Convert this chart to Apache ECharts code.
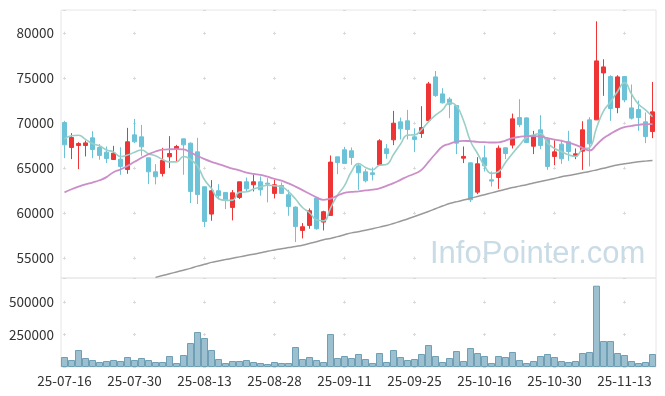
<!DOCTYPE html>
<html><head><meta charset="utf-8">
<script src="https://cdn.jsdelivr.net/npm/echarts@6/dist/echarts.min.js"></script>
<style>html,body{margin:0;padding:0;background:#fff}#c{width:665px;height:396px}</style>
</head><body><div id="c"></div>
<script>
const dates = ["25-07-16","25-07-17","25-07-18","25-07-21","25-07-22","25-07-23","25-07-24","25-07-25","25-07-28","25-07-29",
"25-07-30","25-07-31","25-08-01","25-08-04","25-08-05","25-08-06","25-08-07","25-08-08","25-08-11","25-08-12",
"25-08-13","25-08-14","25-08-18","25-08-19","25-08-20","25-08-21","25-08-22","25-08-25","25-08-26","25-08-27",
"25-08-28","25-08-29","25-09-01","25-09-02","25-09-03","25-09-04","25-09-05","25-09-08","25-09-09","25-09-10",
"25-09-11","25-09-12","25-09-15","25-09-16","25-09-17","25-09-18","25-09-19","25-09-22","25-09-23","25-09-24",
"25-09-25","25-09-26","25-09-29","25-09-30","25-10-01","25-10-02","25-10-10","25-10-13","25-10-14","25-10-15",
"25-10-16","25-10-17","25-10-20","25-10-21","25-10-22","25-10-23","25-10-24","25-10-27","25-10-28","25-10-29",
"25-10-30","25-10-31","25-11-03","25-11-04","25-11-05","25-11-06","25-11-07","25-11-10","25-11-11","25-11-12",
"25-11-13","25-11-14","25-11-17","25-11-18","25-11-19"];

const opens = [70070,67300,67520,67520,68370,67300,66780,65960,66000,64850,
68700,68480,66150,64590,64410,66260,67150,68260,67780,66810,
62930,59890,62480,62300,60630,61740,63480,63150,63480,63330,
62190,63070,62040,60670,58070,58630,61670,59000,59740,66260,
67040,66930,65260,64590,64480,65370,67150,68150,70150,70260,
68480,68850,70300,75150,73260,72670,71960,66110,65590,62330,
66150,63700,63960,67260,67560,70630,70590,67440,69260,68220,
66300,67670,67930,66370,66890,70370,70370,75590,75190,71740,
75190,71700,71520,70150,69070];
const closes = [67590,68410,67740,67810,67070,66410,66070,66670,65190,67930,
67930,67370,64590,64040,65850,66630,67410,67590,62410,62070,
59070,62480,61930,61480,62260,63480,62700,63480,62590,63220,
63150,62190,60740,58520,58480,60260,58260,60150,65670,65630,
65520,66190,64480,63590,64300,68040,66630,70000,69370,69300,
68190,69520,74370,73070,72260,72110,67780,66300,61480,65480,
65260,63560,67220,66630,70480,69850,67850,68590,67520,65190,
66810,66040,66850,66590,69260,67700,76930,76260,71630,75150,
72590,70560,70630,68520,71260];
const lows = [66110,66000,64890,66300,66110,65930,65560,65960,64260,64370,
67780,66370,63220,63190,64070,65000,65740,64260,61110,61000,
58440,59150,61560,60440,59190,61560,62410,62410,61930,61190,
61630,62190,59700,56780,57190,58260,58150,58070,59740,64330,
65520,65370,62590,63410,63630,65370,66040,67560,68190,68190,
66780,68370,70300,72930,72190,70560,66560,65560,61220,62110,
64630,62960,62700,66000,67190,69560,67780,66560,67110,64810,
65330,65480,65810,66000,64810,65190,70370,73040,70260,71110,
72330,70410,69150,67780,68330];
const highs = [70260,68890,67890,68070,69110,67670,67410,67480,67330,69480,
70480,69810,66150,65440,67260,68560,67590,68260,67850,68370,
62930,63670,63220,62300,62560,63480,63960,64260,64070,63890,
63700,63410,62590,60740,58890,60520,61670,60260,66410,66260,
67370,67300,65480,64890,65070,68220,67670,71370,70630,71480,
69440,71890,74590,75810,73890,72890,72000,67410,65650,66220,
67520,64630,67520,67300,71070,72670,70650,69150,70890,68410,
68110,68150,69150,67190,70220,70670,81330,77110,75330,75330,
75190,74300,72520,71190,74590];
const volumes = [76920,53840,130760,69230,53840,38460,46150,53840,46150,76920,
53840,69230,53840,38460,38460,84610,30770,92300,184610,269220,
223070,130760,61540,30770,46150,46150,53840,38460,30770,23080,
38460,30770,30770,153840,61540,76920,53840,38460,253840,69230,
84610,69230,100000,61540,30770,107690,38460,130760,76920,53840,
61540,100000,169220,84610,38460,69230,123070,46150,146150,107690,
84610,30770,84610,76920,115380,53840,30770,46150,84610,100000,
76920,46150,38460,46150,107690,115380,625620,199990,199990,107690,
92300,46150,30770,38460,100000];
const ma5 = [68250,68600,68650,68200,67730,67490,67020,66810,66280,66450,
66760,67020,66600,66370,65960,65700,65700,66300,65980,65220,
63710,62730,61590,61410,61440,62330,62370,62680,62900,63100,
63030,62930,62380,61560,60620,60040,59250,59130,60560,61990,
63050,64630,65500,65080,64820,65320,65410,66510,67670,68670,
68700,69270,70150,70890,71480,72270,71920,70300,67990,66630,
65260,64420,64600,65630,66630,67550,68410,68680,68860,67800,
67190,66830,66480,66300,67110,67290,69470,71350,72360,73530,
74510,73240,72110,71490,70710];
const ma20 = [62300,62650,62950,63200,63400,63650,64000,64550,64850,65250,
65700,66150,66550,66850,67050,67100,67110,67080,66750,66350,
66000,65700,65450,65200,64950,64750,64500,64350,64250,64050,
63800,63600,63300,62950,62550,62150,61750,61480,61600,61950,
62250,62350,62420,62520,62600,62750,63030,63330,63700,64070,
64370,64800,65700,66600,67400,67700,67960,68040,68000,67930,
67890,67850,67870,68070,68330,68480,68550,68560,68520,68330,
68180,68040,67850,67590,67260,66960,67590,68330,68810,69260,
69560,69700,69820,69890,69890];
const ma60 = [null,null,null,null,null,null,null,null,null,null,
null,null,null,52850,53050,53250,53450,53650,53850,54100,
54300,54520,54680,54830,54980,55130,55280,55430,55580,55760,
55900,56030,56160,56290,56430,56620,56810,57030,57180,57380,
57600,57800,57930,58100,58270,58440,58620,58850,59100,59350,
59620,59900,60180,60480,60780,61060,61250,61450,61650,61850,
62050,62250,62450,62650,62850,63000,63150,63350,63520,63680,
63850,64050,64180,64330,64480,64630,64800,64980,65180,65350,
65480,65600,65700,65780,65850];

const candles = dates.map((d, i) => [opens[i], closes[i], lows[i], highs[i]]);

const FONT = 'Noto Sans CJK KR';
const labelStyle = { color: '#333', fontSize: 13.5, fontFamily: FONT };
const gridCol = '#d9d9d9';
const plain = v => String(v);

const chart = echarts.init(document.getElementById('c'), null, { renderer: 'canvas' });
chart.setOption({
  animation: false,
  backgroundColor: '#fff',
  graphic: [{
    type: 'text', left: 430, top: 239, z: 0,
    style: { text: 'InfoPointer.com', fontSize: 31, fontFamily: 'Liberation Sans', fill: '#c9dbe5' }
  }],
  grid: [
    { left: 61, top: 10, width: 595, height: 268, show: true, borderColor: '#e6e6e6', borderWidth: 1 },
    { left: 61, top: 278, width: 595, height: 89, show: true, borderColor: '#e6e6e6', borderWidth: 1 }
  ],
  xAxis: [
    { type: 'category', gridIndex: 0, data: dates, boundaryGap: true,
      axisLine: { show: false }, axisTick: { show: false, interval: 9, alignWithLabel: true },
      axisLabel: { show: false, interval: 9 },
      splitLine: { show: true, interval: 9, alignWithLabel: true,
        lineStyle: { color: gridCol, width: 1, type: [3, 41.95], dashOffset: 23.17 } } },
    { type: 'category', gridIndex: 1, data: dates, boundaryGap: true,
      axisLine: { show: false }, axisTick: { show: false, interval: 9, alignWithLabel: true },
      axisLabel: Object.assign({ interval: 9, margin: 7 }, labelStyle),
      splitLine: { show: true, interval: 9, alignWithLabel: true,
        lineStyle: { color: gridCol, width: 1, type: [3, 29.48], dashOffset: 9.88 } } }
  ],
  yAxis: [
    { type: 'value', gridIndex: 0, min: 52780, max: 82590, splitNumber: 5,
      axisLine: { show: false }, axisTick: { show: false },
      axisLabel: Object.assign({ margin: 7, showMinLabel: false, showMaxLabel: false, formatter: plain }, labelStyle),
      splitLine: { show: true, lineStyle: { color: gridCol, width: 1, type: [3, 67], dashOffset: 68 } } },
    { type: 'value', gridIndex: 1, min: 0, max: 685000, interval: 250000,
      axisLine: { show: false }, axisTick: { show: false },
      axisLabel: Object.assign({ margin: 7, showMinLabel: false, showMaxLabel: false, formatter: plain }, labelStyle),
      splitLine: { show: true, lineStyle: { color: gridCol, width: 1, type: [3, 67], dashOffset: 68 } } }
  ],
  series: [
    { name: 'price', type: 'candlestick', xAxisIndex: 0, yAxisIndex: 0, data: candles, barWidth: 5,
      itemStyle: { color: '#ee3434', color0: '#6cc3d8', borderColor: '#ee3434', borderColor0: '#6cc3d8', borderWidth: 1 } },
    { name: 'MA5', type: 'line', xAxisIndex: 0, yAxisIndex: 0, data: ma5, smooth: true, showSymbol: false,
      lineStyle: { color: '#99cfc6', width: 1.6 } },
    { name: 'MA20', type: 'line', xAxisIndex: 0, yAxisIndex: 0, data: ma20, smooth: true, showSymbol: false,
      lineStyle: { color: '#cc8ec8', width: 1.8 } },
    { name: 'MA60', type: 'line', xAxisIndex: 0, yAxisIndex: 0, data: ma60, smooth: true, showSymbol: false,
      lineStyle: { color: '#999999', width: 1.5 } },
    { name: 'volume', type: 'bar', xAxisIndex: 1, yAxisIndex: 1, data: volumes, barCategoryGap: '0%',
      itemStyle: { color: '#9cc0d0', borderColor: '#6f9fb4', borderWidth: 1 } }
  ]
});
</script>
</body></html>
